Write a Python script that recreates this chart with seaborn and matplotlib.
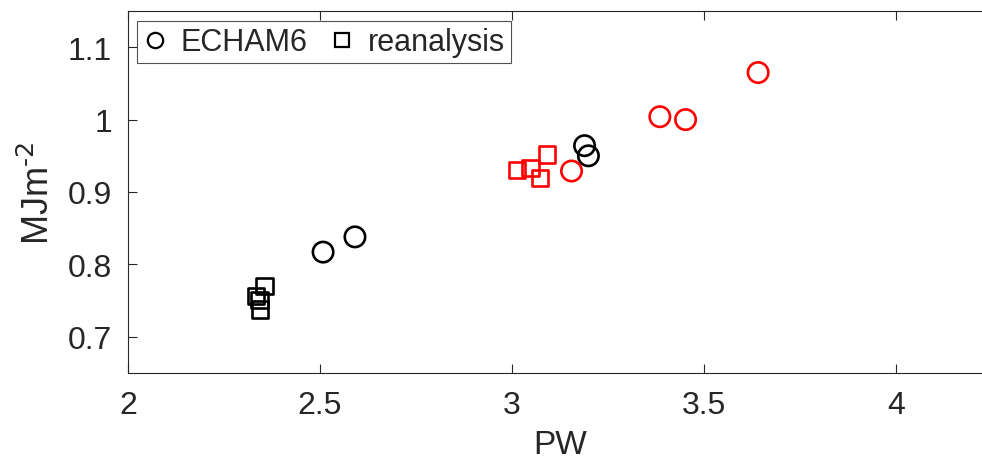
import matplotlib
matplotlib.use("Agg")
import matplotlib.pyplot as plt
from matplotlib.lines import Line2D
import pandas as pd
import seaborn as sns

# ECHAM6 runs (circles)
echam_black_pw = [2.508, 2.591, 3.189, 3.199]
echam_black_e = [0.817, 0.838, 0.964, 0.950]
echam_red_pw = [3.155, 3.385, 3.452, 3.641]
echam_red_e = [0.929, 1.004, 1.000, 1.065]

# reanalysis (squares)
rean_black_pw = [2.356, 2.333, 2.343, 2.344]
rean_black_e = [0.770, 0.756, 0.751, 0.738]
rean_red_pw = [3.013, 3.048, 3.073, 3.091]
rean_red_e = [0.930, 0.933, 0.919, 0.952]

x_ticks = [2, 2.5, 3, 3.5, 4]
x_ticklabels = ["2", "2.5", "3", "3.5", "4"]
y_ticks = [0.7, 0.8, 0.9, 1.0, 1.1]
y_ticklabels = ["0.7", "0.8", "0.9", "1", "1.1"]

sns.set_style("ticks")
plt.rcParams["font.family"] = ["Liberation Sans", "DejaVu Sans"]

fig = plt.figure(figsize=(9.82, 4.6), dpi=100)
ax = fig.add_axes([128 / 982, 1 - 374 / 460, 864 / 982, 362 / 460])

groups = [
    (echam_black_pw, echam_black_e, "o", "black", 215),
    (echam_red_pw, echam_red_e, "o", "red", 215),
    (rean_black_pw, rean_black_e, "s", "black", 140),
    (rean_red_pw, rean_red_e, "s", "red", 140),
]
for xs, ys, mk, col, size in groups:
    df = pd.DataFrame({"PW": xs, "E": ys})
    sns.scatterplot(data=df, x="PW", y="E", marker=mk, s=size,
                    facecolor="none", edgecolor=col, linewidth=1.9,
                    ax=ax, zorder=3)

ax.set_xlim(2, 4.25)
ax.set_ylim(0.65, 1.15)
ax.set_xticks(x_ticks)
ax.set_xticklabels(x_ticklabels)
ax.set_yticks(y_ticks)
ax.set_yticklabels(y_ticklabels)
ax.tick_params(direction="in", length=6.5, width=0.8, color="#262626",
               labelsize=23, labelcolor="#262626", top=True, right=True)
ax.tick_params(axis="x", pad=12.5)
ax.tick_params(axis="y", pad=11.5)
for sp in ax.spines.values():
    sp.set_color("#262626")
    sp.set_linewidth(0.8)
ax.spines["right"].set_visible(False)

ax.set_xlabel("PW", fontsize=24, color="#262626", labelpad=6)
ax.set_ylabel("MJm$^{\\text{-2}}$", fontsize=26, color="#262626",
              labelpad=8)

handles = [
    Line2D([], [], marker="o", ls="none", mfc="none", mec="black",
           mew=1.6, ms=11),
    Line2D([], [], marker="s", ls="none", mfc="none", mec="black",
           mew=1.6, ms=10.5),
]
leg = ax.legend(handles, ["ECHAM6", "reanalysis"], ncol=2, loc="upper left",
                bbox_to_anchor=(0.010, 0.972), fontsize=22, frameon=True,
                fancybox=False, edgecolor="#262626", handlelength=0.8,
                handletextpad=0.45, columnspacing=0.7, borderpad=0.2,
                borderaxespad=0)
leg.get_frame().set_linewidth(0.8)

fig.savefig("out.png", dpi=100)
